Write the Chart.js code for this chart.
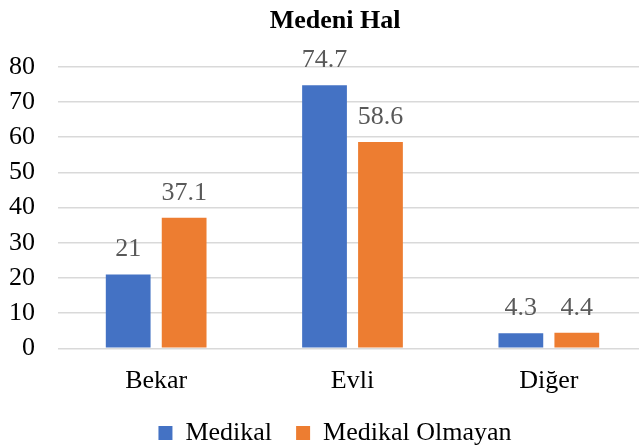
<!DOCTYPE html>
<html>
<head>
<meta charset="utf-8">
<script src="https://cdn.jsdelivr.net/npm/chart.js@4/dist/chart.umd.min.js"></script>
<style>
html, body { margin: 0; padding: 0; overflow: hidden; background: #fff; }
canvas { display: block; }
</style>
</head>
<body>
<canvas id="myChart" width="676" height="456"></canvas>
<script>
// chart data
var categories = ['Bekar', 'Evli', 'Diğer'];
var medikal = [21, 74.7, 4.3];
var medikalOlmayan = [37.1, 58.6, 4.4];
var yTicks = [0, 10, 20, 30, 40, 50, 60, 70, 80];

var serif = '"Liberation Serif", "Times New Roman", serif';
Chart.defaults.font.family = serif;
Chart.defaults.color = '#000';

// value labels above each bar
var valueLabels = {
    id: 'valueLabels',
    afterDatasetsDraw: function(chart) {
        var ctx = chart.ctx;
        ctx.save();
        ctx.font = '26px ' + serif;
        ctx.fillStyle = '#595959';
        ctx.textAlign = 'center';
        ctx.textBaseline = 'alphabetic';
        chart.data.datasets.forEach(function(ds, i) {
            chart.getDatasetMeta(i).data.forEach(function(bar, j) {
                ctx.fillText(String(ds.data[j]), bar.x, bar.y - 18);
            });
        });
        ctx.restore();
    }
};

var element = document.getElementById('myChart').getContext('2d');

var chart = new Chart(element, {
    type: 'bar',
    data: {
        labels: categories,
        datasets: [{
            label: 'Medikal',
            data: medikal,
            backgroundColor: '#4472C4',
            categoryPercentage: 0.57,
            barPercentage: 0.8
        }, {
            label: 'Medikal Olmayan',
            data: medikalOlmayan,
            backgroundColor: '#ED7D31',
            categoryPercentage: 0.57,
            barPercentage: 0.8
        }]
    },
    options: {
        responsive: false,
        animation: false,
        devicePixelRatio: 1,
        // left/right padding keeps title and legend centred like the original
        layout: { padding: { left: 23, right: 29, top: 0, bottom: 0 } },
        plugins: {
            title: {
                display: true,
                text: 'Medeni Hal',
                color: '#000',
                font: { size: 26, weight: 'bold' },
                padding: { top: 6, bottom: 29.5 }
            },
            legend: {
                position: 'bottom',
                labels: {
                    font: { size: 26 },
                    color: '#000',
                    boxWidth: 14,
                    boxHeight: 14,
                    padding: 24
                }
            },
            tooltip: { enabled: false }
        },
        scales: {
            x: {
                grid: { display: false, drawTicks: false },
                border: { display: false },
                ticks: { font: { size: 26 }, color: '#000', padding: 17 },
                afterFit: function(s) { s.height = 456 - 348.3 - s.chart.legend.height; }
            },
            y: {
                min: yTicks[0],
                max: yTicks[yTicks.length - 1],
                ticks: { stepSize: yTicks[1] - yTicks[0], font: { size: 26 }, color: '#000', padding: 23 },
                grid: { color: '#d9d9d9', lineWidth: 1.5, drawTicks: false },
                border: { display: false },
                afterFit: function(s) {
                    s.width = 35;
                    // labels run into the left padding, so don't clip them to the scale box
                    s._computeLabelArea = function() {};
                }
            }
        }
    },
    plugins: [valueLabels]
});
</script>
</body>
</html>
